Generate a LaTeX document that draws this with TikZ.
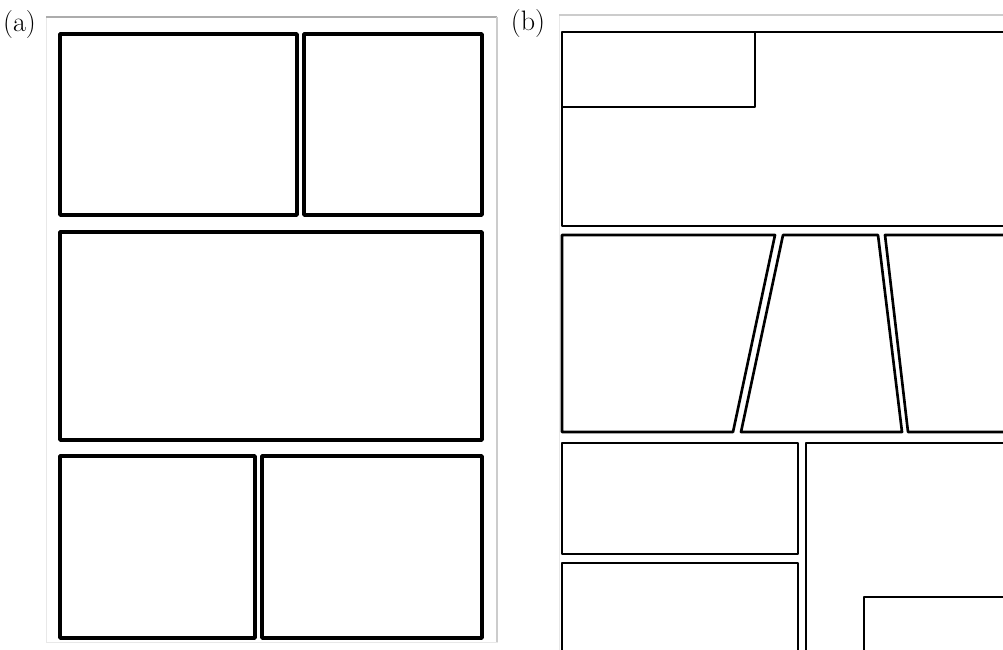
\documentclass[tikz,border=0pt]{standalone}
\usepackage{tikz}

\begin{document}
\begin{tikzpicture}[x=0.02cm,y=-0.02cm,
    panel/.style={line width=2pt,line join=round},
    panelb/.style={line width=1.5pt,line join=round},
    inner/.style={line width=1.2pt,line join=round},
    sheet/.style={draw=gray!18,line width=0.4pt}]
  \useasboundingbox (0,0) rectangle (1003,649);
  \begin{scope}
    \clip (0,0) rectangle (1003,649);
    % page (a)
    \draw[sheet] (46,17) rectangle (497,642);
    \draw[gray!65,line width=0.8pt] (46,17) -- (497,17);
    \draw[gray!40,line width=1.2pt] (497,17) -- (497,642);
    \node (la) at (19.5,24) {\fontsize{16}{18}\selectfont (a)};
    \foreach \xa/\ya/\xb/\yb in {60/34/297/215, 304/34/482/215, 60/232/482/440,
                                60/456/255/638, 262/456/482/638}
    \draw[panel] (\xa,\ya) rectangle (\xb,\yb);
    % page (b)
    \draw[sheet] (559,15) rectangle (1010,660);
    \draw[gray!40,line width=1pt] (559,15) -- (1010,15);
    \node (lb) at (528,23.5) {\fontsize{16}{18}\selectfont (b)};
    \draw[panelb] (562,32) rectangle (1020,226);
    \draw[inner] (562,107) -- (755,107) -- (755,32);
    \draw[panelb] (562,235) -- (775,235) -- (733,432) -- (562,432) -- cycle;
    \draw[panelb] (783,235) -- (878,235) -- (902,432) -- (741,432) -- cycle;
    \draw[panelb] (1020,235) -- (885,235) -- (908,432) -- (1020,432);
    \draw[panelb] (562,443) rectangle (798,554);
    \draw[panelb] (562,563) rectangle (798,660);
    \draw[panelb] (806,443) rectangle (1020,660);
    \draw[inner] (1020,597) -- (864,597) -- (864,660);
  \end{scope}
\end{tikzpicture}
\end{document}
